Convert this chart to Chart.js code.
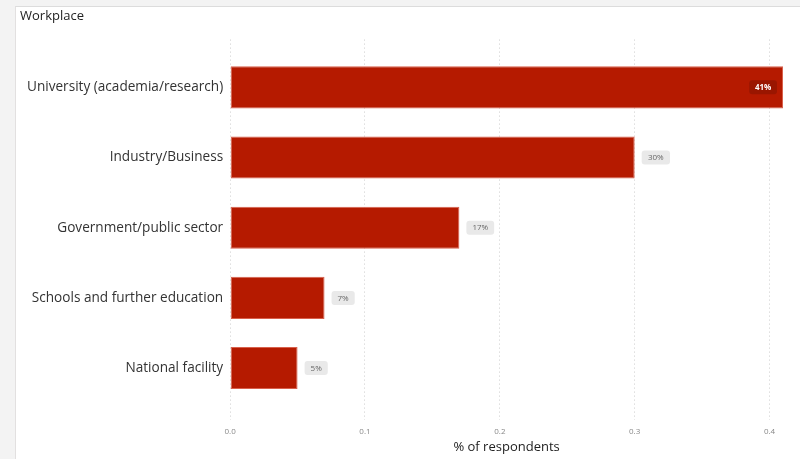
<!DOCTYPE html>
<html>
<head>
<meta charset="utf-8">
<script src="https://cdn.jsdelivr.net/npm/chart.js@4.4.1/dist/chart.umd.min.js"></script>
<style>
  html, body { margin: 0; padding: 0; }
  body { width: 800px; height: 459px; background: #f3f3f3; position: relative; overflow: hidden; }
  .panel { position: absolute; left: 15px; top: 6px; width: 785px; height: 453px; background: #fff;
           border-left: 1px solid #e2e0e0; border-top: 1px solid #dcdcdc; box-sizing: border-box; }
  #chart { display: block; }
</style>
</head>
<body>
<div class="panel"><canvas id="chart" width="784" height="452"></canvas></div>
<script>
  const categories = [
    "University (academia/research)",
    "Industry/Business",
    "Government/public sector",
    "Schools and further education",
    "National facility"
  ];
  const shares = [0.41, 0.30, 0.17, 0.07, 0.05];
  const xTicks = [0.0, 0.1, 0.2, 0.3, 0.4];

  const FONT = "'Open Sans', 'DejaVu Sans', sans-serif";

  // small grey pill labels next to each bar
  const pillLabels = {
    id: "pillLabels",
    afterDatasetsDraw(chart) {
      const ctx = chart.ctx;
      const meta = chart.getDatasetMeta(0);
      const area = chart.chartArea;
      ctx.save();
      ctx.font = "8px " + FONT;
      ctx.textBaseline = "middle";
      ctx.textAlign = "center";
      meta.data.forEach((bar, i) => {
        const p = bar.getProps(["x", "y"], true);
        const text = Math.round(shares[i] * 100) + "%";
        const w = ctx.measureText(text).width + 12;
        const h = 14;
        let left = p.x + 7;
        let inside = false;
        if (left + w > area.right) {
          left = p.x - 6 - w;
          inside = true;
        }
        ctx.fillStyle = inside ? "#9a1600" : "#e9e9e9";
        ctx.beginPath();
        ctx.roundRect(left, p.y - h / 2, w, h, 3);
        ctx.fill();
        ctx.fillStyle = inside ? "#ffffff" : "#666666";
        ctx.font = (inside ? "bold " : "") + "8px " + FONT;
        ctx.fillText(text, left + w / 2, p.y + 0.5);
      });
      ctx.restore();
    }
  };

  new Chart(document.getElementById("chart"), {
    type: "bar",
    data: {
      datasets: [{
        data: shares.map((v, i) => ({ x: v, y: i })),
        backgroundColor: "#b51a00",
        borderColor: "#d8604c",
        borderWidth: 1,
        borderSkipped: false,
        barPercentage: 0.6,
        categoryPercentage: 1
      }]
    },
    options: {
      indexAxis: "y",
      responsive: false,
      animation: false,
      layout: { padding: { left: 4, right: 17, top: 0, bottom: 4 } },
      plugins: {
        legend: { display: false },
        tooltip: { enabled: false },
        title: {
          display: true,
          text: "Workplace",
          align: "start",
          color: "#222",
          font: { family: FONT, size: 13, weight: "normal" },
          padding: { top: 1, bottom: 16 }
        }
      },
      scales: {
        y: {
          type: "linear",
          reverse: true,
          offset: false,
          min: -0.68,
          max: 4.74,
          afterBuildTicks: (s) => { s.ticks = categories.map((c, i) => ({ value: i })); },
          ticks: {
            callback: (v) => categories[v] || "",
            color: "#333",
            padding: 7,
            font: { family: FONT, size: 13.6 }
          },
          grid: { display: false, drawTicks: false },
          border: { display: false }
        },
        x: {
          type: "linear",
          min: 0,
          max: 0.41,
          afterBuildTicks: (s) => { s.ticks = xTicks.map((v) => ({ value: v })); },
          afterFit: (s) => { s.height = 35; },
          ticks: {
            callback: (v) => v.toFixed(1),
            color: "#888",
            padding: 7,
            font: { family: FONT, size: 8 }
          },
          grid: {
            color: "#cccccc",
            lineWidth: 1,
            drawTicks: false
          },
          border: { display: false, dash: [1, 3] },
          title: {
            display: true,
            text: "% of respondents",
            color: "#222",
            font: { family: FONT, size: 13 },
            padding: { top: 0, bottom: 0 }
          }
        }
      }
    },
    plugins: [pillLabels]
  });
</script>
</body>
</html>
